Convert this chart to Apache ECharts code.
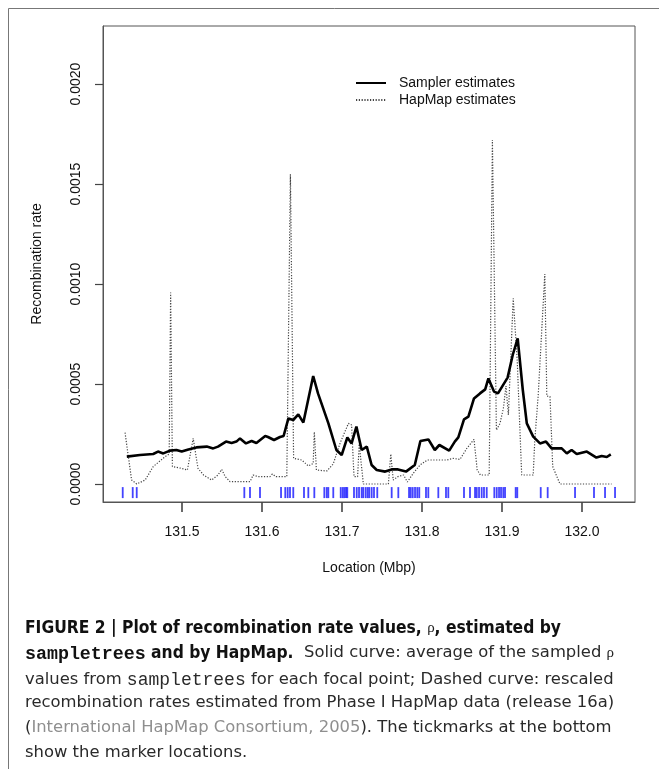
<!DOCTYPE html>
<html>
<head>
<meta charset="utf-8">
<title>Recombination rate</title>
<script src="https://cdn.jsdelivr.net/npm/echarts@6/dist/echarts.min.js"></script>
<style>
  html, body { margin: 0; padding: 0; background: #fff; }
  #chart { width: 659px; height: 769px; }
</style>
</head>
<body>
<div id="chart"></div>
<script>
// Sampler estimates (solid curve)
const samplerX = [131.431, 131.4475, 131.464, 131.470, 131.4766, 131.485, 131.493, 131.4996, 131.508, 131.518,
  131.531, 131.539, 131.545, 131.555, 131.562, 131.568, 131.5725, 131.58, 131.587, 131.593,
  131.604, 131.6075, 131.615, 131.6225, 131.627, 131.633, 131.639, 131.6454, 131.6517, 131.664,
  131.670, 131.683, 131.693, 131.6996, 131.7067, 131.712, 131.718, 131.7246, 131.731, 131.737,
  131.7434, 131.754, 131.762, 131.770, 131.78, 131.791, 131.798, 131.808, 131.816, 131.8217,
  131.834, 131.841, 131.8454, 131.8525, 131.858, 131.865, 131.8725, 131.879, 131.883, 131.89,
  131.895, 131.907, 131.9134, 131.9196, 131.926, 131.931, 131.939, 131.9475, 131.955, 131.962,
  131.9746, 131.981, 131.987, 131.9934, 132.006, 132.018, 132.0246, 132.031, 132.036]
const samplerY = [0.000137, 0.000145, 0.00015, 0.000162, 0.000153, 0.000167, 0.00017, 0.000162, 0.000173, 0.000183,
  0.000187, 0.000178, 0.000187, 0.000212, 0.000205, 0.000212, 0.000228, 0.000203, 0.000215, 0.000205,
  0.00024, 0.000235, 0.00022, 0.000235, 0.00024, 0.000328, 0.00032, 0.000348, 0.000307, 0.00054,
  0.000453, 0.000303, 0.00017, 0.000145, 0.000233, 0.000203, 0.000287, 0.00017, 0.000187, 0.000095,
  0.00007, 0.000062, 0.000073, 0.000073, 0.000062, 0.000095, 0.000215, 0.000223, 0.00017, 0.000195,
  0.000167, 0.000212, 0.000233, 0.000323, 0.000337, 0.000428, 0.000453, 0.000473, 0.000528, 0.000462,
  0.000453, 0.000532, 0.000645, 0.000728, 0.00047, 0.000303, 0.000237, 0.000203, 0.000212, 0.000178,
  0.000178, 0.000153, 0.00017, 0.00015, 0.000162, 0.000132, 0.00014, 0.000135, 0.000148]

// HapMap estimates (dotted curve)
const hapmapX = [131.4288, 131.437, 131.4434, 131.454, 131.464, 131.479, 131.484, 131.4858, 131.488, 131.4996,
  131.5067, 131.514, 131.520, 131.527, 131.537, 131.545, 131.5496, 131.554, 131.56, 131.585,
  131.589, 131.595, 131.61, 131.613, 131.6175, 131.631, 131.6355, 131.6395, 131.6496, 131.658,
  131.664, 131.6654, 131.668, 131.681, 131.689, 131.6975, 131.708, 131.712, 131.715, 131.7195,
  131.7215, 131.7267, 131.758, 131.761, 131.764, 131.770, 131.777, 131.7817, 131.789, 131.7975,
  131.8067, 131.831, 131.839, 131.8475, 131.856, 131.865, 131.869, 131.873, 131.884, 131.888,
  131.893, 131.8975, 131.9017, 131.905, 131.908, 131.914, 131.919, 131.9246, 131.939, 131.941,
  131.9454, 131.9535, 131.956, 131.96, 131.9634, 131.9725, 132.037]
const hapmapY = [0.000257, 0.00002, 0.0, 0.00002, 0.000087, 0.000137, 0.00015, 0.000957, 0.000087, 0.000078,
  0.00007, 0.000228, 0.000078, 0.000045, 0.00002, 0.000045, 0.000073, 0.000037, 0.000012, 0.000012,
  0.000045, 0.000037, 0.000037, 0.00005, 0.000037, 0.000037, 0.00155, 0.000128, 0.00012, 0.00009,
  0.000103, 0.00026, 0.00007, 0.000065, 0.0001, 0.000203, 0.000303, 0.000295, 0.000037, 0.000037,
  0.0002, 0.0, 0.0, 0.00015, 0.00002, 0.000037, 0.000045, 0.00001, 0.000053, 0.000095,
  0.00012, 0.00012, 0.000128, 0.000123, 0.000178, 0.000223, 0.00007, 0.000045, 0.000045, 0.00172,
  0.00027, 0.000303, 0.000378, 0.00049, 0.000345, 0.000928, 0.00062, 0.000045, 0.000045, 0.00022,
  0.000453, 0.00105, 0.00044, 0.000437, 0.000087, 0.0, 0.0]

// marker locations (blue rug at the bottom)
const markerPos = [131.4259, 131.4384, 131.4434, 131.5779, 131.585, 131.5975, 131.6238, 131.6291, 131.6321, 131.635,
  131.6391, 131.6525, 131.6579, 131.6654, 131.6779, 131.6809, 131.6829, 131.6891, 131.6984, 131.7009,
  131.7029, 131.705, 131.7066, 131.715, 131.7184, 131.7213, 131.7246, 131.7266, 131.7296, 131.7321,
  131.7341, 131.7371, 131.74, 131.7441, 131.7621, 131.7704, 131.7838, 131.7859, 131.7884, 131.7913,
  131.7941, 131.7966, 131.805, 131.8079, 131.8204, 131.83, 131.8329, 131.8525, 131.86, 131.8663,
  131.8684, 131.8713, 131.8746, 131.8775, 131.8809, 131.8904, 131.8934, 131.8963, 131.8988, 131.9016,
  131.9038, 131.9171, 131.9191, 131.9484, 131.9571, 131.9913, 132.015, 132.0288, 132.0413]
const rugLevel = -0.000043

const xTicks = [131.5, 131.6, 131.7, 131.8, 131.9, 132.0]
const yTicks = [0, 0.0005, 0.001, 0.0015, 0.002]

const chart = echarts.init(document.getElementById('chart'), null, { renderer: 'canvas' })

const zip = (xs, ys) => xs.map((x, i) => [x, ys[i]])

const axisFont = 'Liberation Sans, Arial, sans-serif'
const capFont = "'DejaVu Sans', 'Open Sans', sans-serif"
const boldFont = "'Liberation Sans Narrow', 'DejaVu Sans Condensed', 'Liberation Sans', sans-serif"
const monoFont = "'Liberation Mono', 'DejaVu Sans Mono', monospace"

// caption, one entry per printed line; the journal text is justified,
// so a line may have a second piece pinned to the right margin
const captionLines = [
  { left: '{b|FIGURE 2 | Plot of recombination rate values, }{rho|ρ}{b|, estimated by}' },
  { left: '{bm|sampletrees}{b| and by HapMap.}', right: '{r|Solid curve: average of the sampled }{rho|ρ}' },
  { left: '{r|values from }{m|sampletrees}{r| for each focal point; Dashed curve: rescaled}' },
  { left: '{r|recombination rates estimated from Phase I HapMap data (release 16a)}' },
  { left: '{r|(}{g|International HapMap Consortium, 2005}{r|). The tickmarks at the bottom}' },
  { left: '{r|show the marker locations.}' }
]
const captionTop = [620, 645, 671, 695, 720, 745]

const rich = {
  b: { fontFamily: boldFont, fontWeight: 'bold', fontSize: 17.3, fill: '#111' },
  bm: { fontFamily: monoFont, fontWeight: 'bold', fontSize: 18.3, fill: '#111' },
  r: { fontFamily: capFont, fontSize: 16.4, fill: '#2a2a2a' },
  m: { fontFamily: monoFont, fontSize: 18, fill: '#2a2a2a' },
  g: { fontFamily: capFont, fontSize: 16.4, fill: '#8f8f8f' },
  rho: { fontFamily: 'Liberation Serif, serif', fontSize: 15, fill: '#222' }
}

const captionGraphics = []
captionLines.forEach((line, i) => {
  captionGraphics.push({
    type: 'text',
    left: 25,
    top: captionTop[i],
    style: { text: line.left, rich: rich, verticalAlign: 'top' },
    silent: true
  })
  if (line.right) {
    captionGraphics.push({
      type: 'text',
      right: 45,
      top: captionTop[i],
      style: { text: line.right, rich: rich, verticalAlign: 'top' },
      silent: true
    })
  }
})

const option = {
  backgroundColor: '#fff',
  animation: false,
  grid: {
    left: 103,
    top: 26,
    right: 24,
    bottom: 267,
    show: true,
    borderColor: '#555',
    borderWidth: 1,
    backgroundColor: 'transparent'
  },
  legend: {
    data: ['Sampler estimates', 'HapMap estimates'],
    orient: 'vertical',
    left: 355,
    top: 76,
    padding: 0,
    itemWidth: 30,
    itemHeight: 14,
    itemGap: 3,
    itemStyle: { color: 'transparent', borderColor: 'transparent', borderWidth: 0 },
    textStyle: {
      fontFamily: axisFont,
      fontSize: 14,
      color: '#111',
      padding: [0, 0, 0, 8]
    }
  },
  xAxis: {
    type: 'value',
    position: 'bottom',
    min: 131.40125,
    max: 132.06625,
    name: 'Location (Mbp)',
    nameLocation: 'middle',
    nameGap: 59,
    nameTextStyle: { fontFamily: axisFont, fontSize: 14, color: '#111' },
    axisLine: { show: true, onZero: false, lineStyle: { color: '#555', width: 1 } },
    splitLine: { show: false },
    axisTick: {
      show: true,
      inside: false,
      length: 10,
      lineStyle: { color: '#444', width: 1.6 },
      customValues: xTicks
    },
    axisLabel: {
      margin: 23,
      fontFamily: axisFont,
      fontSize: 14,
      color: '#111',
      customValues: xTicks,
      formatter: (v) => v.toFixed(1)
    }
  },
  yAxis: {
    type: 'value',
    position: 'left',
    min: -0.00009,
    max: 0.00229,
    name: 'Recombination rate',
    nameLocation: 'middle',
    nameRotate: 90,
    nameGap: 59,
    nameTextStyle: { fontFamily: axisFont, fontSize: 14, color: '#111' },
    axisLine: { show: true, onZero: false, lineStyle: { color: '#555', width: 1 } },
    splitLine: { show: false },
    axisTick: {
      show: true,
      inside: false,
      length: 8,
      lineStyle: { color: '#444', width: 1.2 },
      customValues: yTicks
    },
    axisLabel: {
      margin: 20,
      rotate: 90,
      fontFamily: axisFont,
      fontSize: 14,
      color: '#111',
      customValues: yTicks,
      formatter: (v) => v.toFixed(4)
    }
  },
  series: [
    {
      name: 'HapMap estimates',
      type: 'line',
      data: zip(hapmapX, hapmapY),
      symbol: 'none',
      lineStyle: { color: '#444', width: 1.2, type: [1.2, 1.6] },
      itemStyle: { color: '#444' },
      z: 2
    },
    {
      name: 'Sampler estimates',
      type: 'line',
      data: zip(samplerX, samplerY),
      symbol: 'none',
      lineStyle: { color: '#000', width: 2.6 },
      itemStyle: { color: '#000' },
      z: 3
    },
    {
      name: 'Markers',
      type: 'scatter',
      data: markerPos.map(x => [x, rugLevel]),
      symbol: 'rect',
      symbolSize: [1.8, 11],
      itemStyle: { color: '#1414ff' },
      silent: true,
      z: 4
    }
  ],
  graphic: [
    {
      type: 'rect',
      shape: { x: 8.5, y: 8.5, width: 700, height: 800 },
      style: { fill: 'none', stroke: '#777', lineWidth: 1 },
      silent: true
    },
    ...captionGraphics
  ]
}

chart.setOption(option)
</script>
</body>
</html>
